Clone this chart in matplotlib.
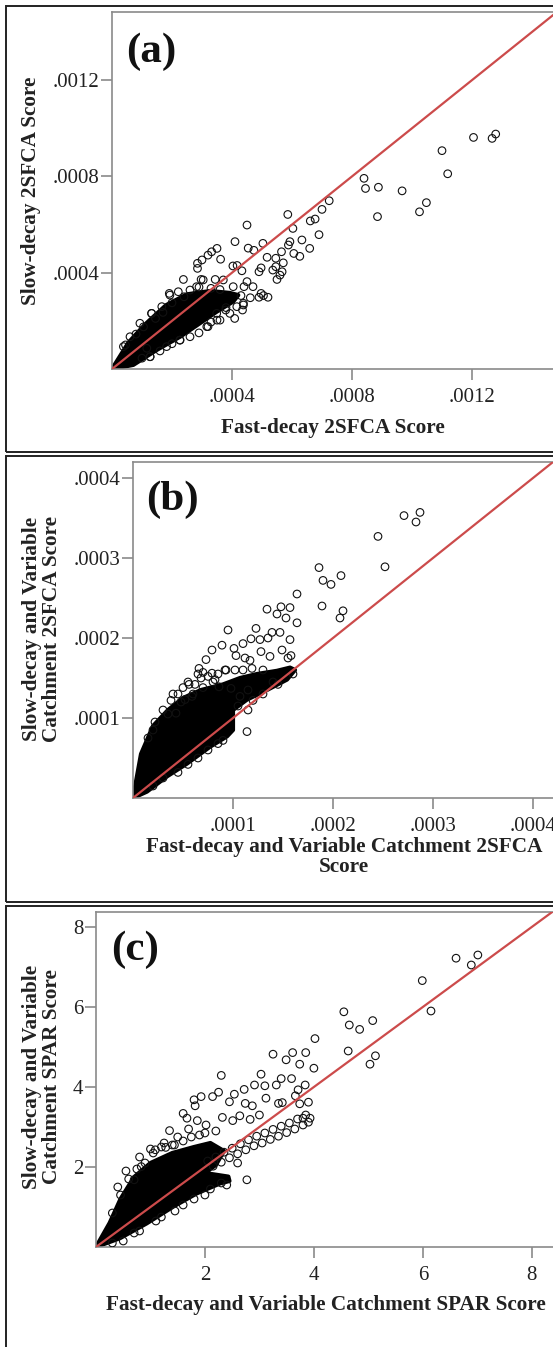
import numpy as np
import matplotlib
matplotlib.use("Agg")
import matplotlib.pyplot as plt
from matplotlib.patches import Rectangle

# ---- panel (a): Fast-decay vs Slow-decay 2SFCA (values in units of 1e-4)
A_SCALE = 1e-4
A_OUT_X = [12.05, 12.67, 12.79, 11.00, 11.19, 8.40, 8.45, 8.88, 9.67, 8.85,
           10.25, 10.48, 7.24, 7.00, 6.77, 6.61, 6.90, 6.59, 5.86, 6.03,
           6.33, 5.93, 5.88, 5.65, 6.06, 6.26, 4.50, 4.10, 4.54, 4.73,
           5.03, 5.17, 5.46, 5.71, 5.46, 4.97, 4.90, 5.67, 5.60, 5.50,
           5.36, 4.03, 4.17, 4.33, 3.50, 3.32, 3.20, 3.00, 2.85, 2.85,
           3.62, 2.38, 2.97, 3.44, 4.97, 4.90, 5.20, 5.05, 4.61, 4.09,
           4.38, 4.35, 4.50, 4.40, 4.70, 3.79, 3.50, 3.20, 1.32, 1.91,
           1.27, 2.26]
A_OUT_Y = [9.62, 9.58, 9.76, 9.07, 8.11, 7.92, 7.50, 7.55, 7.40, 6.33,
           6.53, 6.91, 6.99, 6.63, 6.23, 6.15, 5.58, 5.01, 6.42, 5.84,
           5.36, 5.29, 5.15, 4.87, 4.80, 4.68, 5.98, 5.29, 5.02, 4.93,
           5.22, 4.64, 4.60, 4.41, 4.25, 4.20, 4.04, 4.04, 3.90, 3.72,
           4.11, 4.28, 4.30, 4.08, 5.01, 4.87, 4.73, 4.53, 4.39, 4.18,
           4.56, 3.72, 3.72, 3.72, 3.14, 2.98, 2.98, 3.05, 2.96, 2.10,
           2.66, 2.45, 3.63, 3.42, 3.42, 2.45, 2.03, 1.76, 2.31, 3.14,
           0.51, 1.20]
A_HALO_X = [1.32, 1.66, 1.93, 2.21, 2.60, 2.82, 3.04, 0.93, 0.60, 0.38,
            1.16, 1.27, 1.82, 2.27, 2.60, 3.16, 3.60, 3.93, 3.49, 4.16,
            4.38, 3.71, 4.04, 0.45, 0.80, 1.05, 1.45, 1.70, 2.00, 2.40,
            2.90, 3.30, 3.60, 1.00, 1.60, 2.00, 2.90, 3.30, 3.80, 4.30]
A_HALO_Y = [2.31, 2.59, 3.07, 3.21, 3.28, 3.42, 3.70, 1.90, 1.34, 0.93,
            0.86, 0.51, 0.93, 1.20, 1.34, 1.76, 2.03, 2.31, 2.31, 2.59,
            2.73, 3.70, 3.42, 1.00, 1.45, 1.75, 2.10, 2.35, 2.75, 3.00,
            3.40, 3.35, 3.30, 0.45, 0.75, 1.05, 1.50, 1.95, 2.55, 3.05]
A_CORE_X = [0.0, 0.55, 1.10, 1.80, 2.49, 3.27, 3.93, 4.21,
            4.04, 3.49, 2.93, 2.27, 1.49, 0.71]
A_CORE_Y = [0.0, 1.10, 1.85, 2.65, 3.10, 3.24, 3.16, 3.07,
            2.80, 2.38, 1.90, 1.34, 0.79, 0.17]
A_TICKS = [0.0004, 0.0008, 0.0012]
A_TICKLABELS = [".0004", ".0008", ".0012"]

# ---- panel (b): variable catchment 2SFCA (units of 1e-4)
B_SCALE = 1e-4
B_OUT_X = [2.87, 2.71, 2.83, 2.45, 2.52, 1.86, 1.90, 1.98, 2.08, 1.89,
           2.07, 2.10, 1.64, 1.34, 1.48, 1.57, 1.44, 1.53, 1.64, 1.39,
           1.47, 1.23, 0.95, 1.18, 1.27, 1.35, 1.57, 1.49, 1.10, 1.01,
           0.89, 0.79, 0.73, 1.28, 1.37, 1.12, 1.03, 1.17, 1.58, 1.55,
           0.66, 0.70, 0.79, 0.93, 1.02, 1.10, 1.19, 1.30, 0.56, 0.82,
           1.14, 1.15, 1.07, 0.98, 0.43, 0.52, 0.59, 0.86]
B_OUT_Y = [3.57, 3.53, 3.45, 3.27, 2.89, 2.88, 2.72, 2.67, 2.78, 2.40,
           2.25, 2.34, 2.55, 2.36, 2.39, 2.38, 2.30, 2.25, 2.19, 2.07,
           2.07, 2.12, 2.10, 1.99, 1.98, 2.00, 1.98, 1.85, 1.93, 1.87,
           1.91, 1.85, 1.73, 1.83, 1.77, 1.75, 1.78, 1.72, 1.78, 1.75,
           1.62, 1.57, 1.56, 1.60, 1.60, 1.60, 1.62, 1.60, 1.42, 1.48,
           0.83, 1.10, 1.27, 1.37, 1.06, 1.23, 1.27, 1.39]
B_HALO_X = [0.15, 0.22, 0.30, 0.38, 0.45, 0.50, 0.62, 0.68, 0.75, 0.85,
            0.92, 0.30, 0.55, 0.75, 0.90, 1.05, 1.20, 1.30, 1.45, 0.20,
            0.35, 0.48, 0.60, 0.70, 0.80, 0.40, 0.55, 0.65, 0.20, 0.45,
            0.65, 0.85, 1.15, 1.40, 1.60]
B_HALO_Y = [0.75, 0.95, 1.10, 1.22, 1.30, 1.38, 1.42, 1.50, 1.52, 1.55,
            1.60, 0.25, 0.42, 0.60, 0.72, 1.15, 1.22, 1.30, 1.42, 0.85,
            1.05, 1.20, 1.30, 1.38, 1.45, 1.30, 1.45, 1.55, 0.15, 0.32,
            0.50, 0.68, 1.35, 1.45, 1.55]
B_CORE_X = [0.0, 0.08, 0.20, 0.35, 0.50, 0.68, 0.90, 1.07, 1.24, 1.44, 1.57, 1.62,
            1.54, 1.34, 1.14, 1.00, 1.00, 0.94, 0.77, 0.54, 0.34, 0.14]
B_CORE_Y = [0.0, 0.55, 0.90, 1.10, 1.25, 1.35, 1.42, 1.50, 1.55, 1.59, 1.63, 1.60,
            1.48, 1.35, 1.23, 1.10, 0.85, 0.77, 0.64, 0.43, 0.27, 0.08]
B_TICKS = [0.0001, 0.0002, 0.0003, 0.0004]
B_TICKLABELS = [".0001", ".0002", ".0003", ".0004"]

# ---- panel (c): variable catchment SPAR
C_OUT_X = [7.01, 6.89, 6.61, 5.99, 6.15, 4.55, 4.65, 4.84, 5.08, 4.63,
           5.03, 5.13, 4.02, 4.00, 3.85, 3.61, 3.25, 3.49, 3.74, 3.59,
           3.40, 3.31, 3.03, 2.30, 2.91, 3.10, 2.72, 3.84, 3.71, 3.66,
           3.12, 2.54, 2.25, 2.14, 1.93, 1.80, 1.82, 2.45, 2.74, 2.87,
           3.35, 3.42, 3.90, 3.74, 1.60, 1.67, 1.86, 2.32, 2.51, 2.64,
           2.02, 3.00, 2.83, 1.35, 2.77, 1.09, 1.28, 1.44, 0.83, 0.70,
           3.80, 3.93]
C_OUT_Y = [7.30, 7.05, 7.22, 6.66, 5.90, 5.88, 5.55, 5.44, 5.66, 4.90,
           4.57, 4.78, 5.21, 4.47, 4.86, 4.86, 4.82, 4.68, 4.57, 4.21,
           4.21, 4.05, 4.32, 4.29, 4.05, 4.03, 3.94, 4.05, 3.93, 3.78,
           3.72, 3.82, 3.87, 3.76, 3.76, 3.68, 3.53, 3.63, 3.59, 3.53,
           3.59, 3.61, 3.62, 3.58, 3.34, 3.22, 3.16, 3.24, 3.16, 3.28,
           3.05, 3.30, 3.19, 2.91, 1.68, 2.43, 2.49, 2.55, 2.01, 1.68,
           3.22, 3.22]
C_BAND_X = [2.05, 2.20, 2.35, 2.50, 2.65, 2.80, 2.95, 3.10, 3.25, 3.40, 3.55, 3.70, 3.85,
            2.15, 2.30, 2.45, 2.60, 2.75, 2.90, 3.05, 3.20, 3.35, 3.50, 3.65, 3.80, 3.90]
C_BAND_Y = [2.15, 2.25, 2.37, 2.47, 2.58, 2.68, 2.77, 2.85, 2.94, 3.02, 3.10, 3.20, 3.30,
            2.02, 2.12, 2.23, 2.33, 2.43, 2.53, 2.60, 2.69, 2.77, 2.86, 2.95, 3.05, 3.12]
C_HALO_X = [0.30, 0.45, 0.60, 0.75, 0.90, 1.05, 1.20, 1.40, 1.60, 1.75,
            1.90, 0.50, 0.80, 1.10, 1.45, 1.80, 2.10, 2.30, 2.60, 0.40,
            0.55, 0.80, 1.00, 1.25, 1.50, 1.70, 2.00, 2.20, 0.30, 0.70,
            1.20, 1.60, 2.00, 2.40]
C_HALO_Y = [0.85, 1.30, 1.70, 1.95, 2.10, 2.35, 2.50, 2.55, 2.65, 2.75,
            2.80, 0.15, 0.40, 0.65, 0.90, 1.20, 1.45, 1.60, 2.10, 1.50,
            1.90, 2.25, 2.45, 2.60, 2.75, 2.95, 2.85, 2.90, 0.10, 0.35,
            0.75, 1.05, 1.30, 1.55]
C_CORE_X = [0.0, 0.25, 0.45, 0.70, 1.00, 1.40, 1.80, 2.10, 2.35, 2.20, 2.00,
            2.43, 2.45, 2.28, 1.85, 1.42, 0.93, 0.44]
C_CORE_Y = [0.0, 0.60, 1.20, 1.75, 2.10, 2.35, 2.50, 2.60, 2.40, 2.05, 1.85,
            1.76, 1.65, 1.59, 1.34, 1.01, 0.59, 0.22]
C_TICKS = [2, 4, 6, 8]
C_TICKLABELS = ["2", "4", "6", "8"]

W, H = 553, 1347
plt.rcParams["font.family"] = ["Liberation Serif", "DejaVu Serif"]

fig = plt.figure(figsize=(W / 100, H / 100), dpi=100)


def fx(px):
    return px / W


def fy(py):
    return 1 - py / H


def panel(left, top, right, bottom, xlim, ylim, ticks, labels):
    ax = fig.add_axes([fx(left), fy(bottom), (right - left) / W, (bottom - top) / H])
    ax.set_xlim(0, xlim)
    ax.set_ylim(0, ylim)
    ax.set_xticks(ticks)
    ax.set_xticklabels(labels)
    ax.set_yticks(ticks)
    ax.set_yticklabels(labels)
    for s in ax.spines.values():
        s.set_color("#8a8a8a")
        s.set_linewidth(1.2)
    ax.tick_params(direction="out", length=8, width=1.2, color="#8a8a8a",
                   labelsize=15, labelcolor="#222222")
    ax.tick_params(axis="x", pad=6)
    ax.tick_params(axis="y", pad=1)
    return ax


def cloud(ax, scale, core_x, core_y, pts):
    ax.fill(np.array(core_x) * scale, np.array(core_y) * scale, color="black",
            lw=3, joinstyle="round", zorder=2)
    for x, y in pts:
        ax.scatter(np.array(x) * scale, np.array(y) * scale, s=30, facecolors="none",
                   edgecolors="#111111", linewidths=0.8, zorder=3)
    ax.axline((0, 0), slope=1, color="#cc4b4b", lw=1.6, zorder=4)


def box(top, bottom):
    fig.patches.append(Rectangle((fx(6), fy(bottom)), (W + 10) / W, (bottom - top) / H,
                                 transform=fig.transFigure, fill=False,
                                 edgecolor="#222222", lw=1.4, clip_on=False))


box(6, 452)
box(456, 902)
box(906, 1360)

# (a)
ax = panel(112, 12, 562, 369, 0.0015, 0.001483, A_TICKS, A_TICKLABELS)
cloud(ax, A_SCALE, A_CORE_X, A_CORE_Y,
      [(A_HALO_X, A_HALO_Y), (A_OUT_X, A_OUT_Y)])
# (b)
ax = panel(133, 462, 563, 798, 0.00043, 0.00042, B_TICKS, B_TICKLABELS)
cloud(ax, B_SCALE, B_CORE_X, B_CORE_Y,
      [(B_HALO_X, B_HALO_Y), (B_OUT_X, B_OUT_Y)])
# (c)
ax = panel(96, 912, 559, 1247, 8.5, 8.375, C_TICKS, C_TICKLABELS)
cloud(ax, 1, C_CORE_X, C_CORE_Y,
      [(C_HALO_X, C_HALO_Y), (C_BAND_X, C_BAND_Y), (C_OUT_X, C_OUT_Y)])

bold = dict(fontsize=15.3, fontweight="bold", color="#222222",
            ha="center", va="center", linespacing=1.0)
fig.text(fx(333), fy(428), "Fast-decay 2SFCA Score", **bold)
fig.text(fx(31), fy(191), "Slow-decay 2SFCA Score", rotation=90, **bold)
fig.text(fx(344), fy(857), "Fast-decay and Variable Catchment 2SFCA\nScore", **bold)
fig.text(fx(42), fy(629), "Slow-decay and Variable\nCatchment 2SFCA Score", rotation=90, **bold)
fig.text(fx(326), fy(1305), "Fast-decay and Variable Catchment SPAR Score", **bold)
fig.text(fx(42), fy(1077), "Slow-decay and Variable\nCatchment SPAR Score", rotation=90, **bold)

tag = dict(fontsize=31, fontweight="bold", color="#111111", ha="left", va="center")
fig.text(fx(126), fy(52), "(a)", **tag)
fig.text(fx(146), fy(500), "(b)", **tag)
fig.text(fx(111), fy(950), "(c)", **tag)

fig.savefig("out.png", dpi=100)
